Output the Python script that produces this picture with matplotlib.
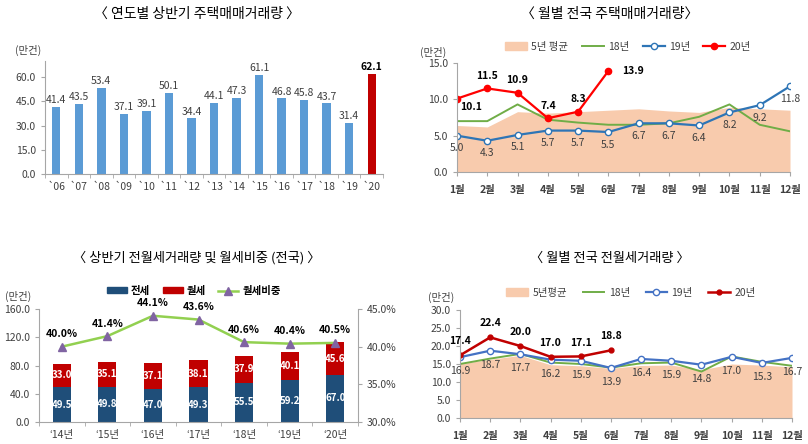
import numpy as np
import matplotlib
matplotlib.use("Agg")
import matplotlib.pyplot as plt
from matplotlib.patches import Patch
from matplotlib.lines import Line2D
from matplotlib.ticker import FuncFormatter

plt.rcParams['font.family'] = ['Noto Sans CJK KR', 'DejaVu Sans']

# ----------------------------
# Data
# ----------------------------
years = ['`06', '`07', '`08', '`09', '`10', '`11', '`12', '`13', '`14', '`15',
         '`16', '`17', '`18', '`19', '`20']
half_sales = [41.4, 43.5, 53.4, 37.1, 39.1, 50.1, 34.4, 44.1, 47.3, 61.1,
              46.8, 45.8, 43.7, 31.4, 62.1]

months = ['1월', '2월', '3월', '4월', '5월', '6월', '7월', '8월', '9월', '10월', '11월', '12월']
sale_avg5 = [6.4, 6.2, 8.3, 8.1, 8.3, 8.5, 8.7, 8.4, 8.2, 8.9, 8.7, 8.5]
sale_18 = [7.0, 7.0, 9.3, 7.2, 6.8, 6.5, 6.5, 6.7, 7.6, 9.3, 6.5, 5.6]
sale_19 = [5.0, 4.3, 5.1, 5.7, 5.7, 5.5, 6.7, 6.7, 6.4, 8.2, 9.2, 11.8]
sale_20 = [10.1, 11.5, 10.9, 7.4, 8.3, 13.9]

rent_years = ['‘14년', '‘15년', '‘16년', '‘17년', '‘18년', '‘19년', '‘20년']
jeonse = [49.5, 49.8, 47.0, 49.3, 55.5, 59.2, 67.0]
wolse = [33.0, 35.1, 37.1, 38.1, 37.9, 40.1, 45.6]
wolse_share = [40.0, 41.4, 44.1, 43.6, 40.6, 40.4, 40.5]

rent_avg5 = [15.1, 16.3, 17.4, 14.8, 14.5, 13.8, 14.6, 14.7, 13.4, 15.0, 14.7, 14.2]
rent_18 = [15.0, 16.5, 17.8, 15.4, 15.0, 14.0, 15.2, 15.4, 12.9, 17.1, 15.6, 14.5]
rent_19 = [16.9, 18.7, 17.7, 16.2, 15.9, 13.9, 16.4, 15.9, 14.8, 17.0, 15.3, 16.7]
rent_20 = [17.4, 22.4, 20.0, 17.0, 17.1, 18.8]

W, H = 808, 444
fig = plt.figure(figsize=(W / 100, H / 100), dpi=100)

def px_axes(x0, y0, x1, y1):
    return fig.add_axes([x0 / W, 1 - y1 / H, (x1 - x0) / W, (y1 - y0) / H])

def ftxt(x, y, s, **kw):
    fig.text(x / W, 1 - y / H, s, **kw)

AX = '#A6A6A6'
TXT = '#404040'

def style(ax):
    for s in ['top', 'right']:
        ax.spines[s].set_visible(False)
    ax.spines['left'].set_color(AX)
    ax.spines['bottom'].set_color(AX)
    ax.tick_params(axis='both', colors=AX, labelcolor=TXT, labelsize=7.5, length=3)

fmt1 = FuncFormatter(lambda v, p: f'{v:.1f}')

# ----------------------------
# Panel 1: yearly first-half sales
# ----------------------------
ax1 = px_axes(45, 61, 383, 174)
style(ax1)
x = np.arange(len(years))
cols = ['#5B9BD5'] * (len(years) - 1) + ['#C00000']
ax1.bar(x, half_sales, width=0.37, color=cols)
for i, v in enumerate(half_sales):
    last = i == len(years) - 1
    ax1.text(i, v + 1.2, f'{v:.1f}', ha='center', va='bottom', fontsize=7.5,
             color='black' if last else TXT, fontweight='bold' if last else 'normal')
ax1.set_xlim(-0.5, len(years) - 0.5)
ax1.set_ylim(0, 70)
ax1.set_yticks([0, 15, 30, 45, 60])
ax1.yaxis.set_major_formatter(fmt1)
ax1.set_xticks(x)
ax1.set_xticklabels(years)
ax1.set_xticks(np.arange(-0.5, len(years)), minor=True)
ax1.tick_params(axis='x', which='major', length=0, pad=6)
ax1.tick_params(axis='x', which='minor', length=3, color=AX)
ftxt(15, 50, '(만건)', fontsize=7.5, color=TXT, va='center')
ftxt(197, 14, '〈 연도별 상반기 주택매매거래량 〉', fontsize=10, ha='center', va='center')

# ----------------------------
# Panel 2: monthly sales
# ----------------------------
ax2 = px_axes(457, 63, 790, 172)
style(ax2)
m = np.arange(len(months))
ax2.fill_between(m, sale_avg5, color='#F8CBAD', lw=0)
ax2.plot(m, sale_18, color='#70AD47', lw=1.4)
ax2.plot(m, sale_19, color='#2E75B6', lw=1.6, marker='o', ms=4.5, mfc='white', mec='#2E75B6')
m20 = np.arange(len(sale_20))
ax2.plot(m20, sale_20, color='#FF0000', lw=1.6, marker='o', ms=4.5, mfc='#FF0000', mec='#FF0000')
for i, v in enumerate(sale_19):
    ax2.annotate(f'{v:.1f}', (i, v), xytext=(0, -9), textcoords='offset points',
                 ha='center', va='center', fontsize=7.5, color=TXT)
off20 = [(10, -6), (0, 9), (0, 9), (0, 9), (0, 9), (18, 0)]
for i, v in enumerate(sale_20):
    ax2.annotate(f'{v:.1f}', (i, v), xytext=off20[i], textcoords='offset points',
                 ha='center', va='center', fontsize=7.5, fontweight='bold', color='black')
ax2.set_xlim(0, len(months) - 1)
ax2.set_ylim(0, 15)
ax2.set_yticks([0, 5, 10, 15])
ax2.yaxis.set_major_formatter(fmt1)
ax2.set_xticks(m)
ax2.set_xticklabels(months, fontweight='bold')
ax2.tick_params(axis='x', pad=6)
h2 = [Patch(color='#F8CBAD'),
      Line2D([], [], color='#70AD47', lw=1.4),
      Line2D([], [], color='#2E75B6', lw=1.6, marker='o', ms=4.5, mfc='white'),
      Line2D([], [], color='#FF0000', lw=1.6, marker='o', ms=4.5)]
fig.legend(h2, ['5년 평균', '18년', '19년', '20년'], loc='center',
           bbox_to_anchor=(628 / W, 1 - 47 / H), ncol=4, frameon=False,
           fontsize=7.5, handlelength=2.1, handleheight=0.8, columnspacing=1.3,
           handletextpad=0.4, labelcolor=TXT)
ftxt(420, 52, '(만건)', fontsize=7.5, color=TXT, va='center')
ftxt(610, 14, '〈 월별 전국 주택매매거래량〉', fontsize=10, ha='center', va='center')

# ----------------------------
# Panel 3: first-half rent volume and wolse share
# ----------------------------
ax3 = px_axes(39, 309, 358, 422)
style(ax3)
r = np.arange(len(rent_years))
ax3.bar(r, jeonse, width=0.4, color='#1F4E79')
ax3.bar(r, wolse, width=0.4, bottom=jeonse, color='#C00000')
for i in r:
    ax3.text(i, jeonse[i] / 2, f'{jeonse[i]:.1f}', ha='center', va='center',
             fontsize=7, color='white', fontweight='bold')
    ax3.text(i, jeonse[i] + wolse[i] / 2, f'{wolse[i]:.1f}', ha='center', va='center',
             fontsize=7, color='white', fontweight='bold')
ax3.set_xlim(-0.5, len(rent_years) - 0.5)
ax3.set_ylim(0, 160)
ax3.set_yticks([0, 40, 80, 120, 160])
ax3.yaxis.set_major_formatter(fmt1)
ax3.set_xticks(r)
ax3.set_xticklabels(rent_years)
ax3.set_xticks(np.arange(-0.5, len(rent_years)), minor=True)
ax3.tick_params(axis='x', which='major', length=0, pad=6)
ax3.tick_params(axis='x', which='minor', length=3, color=AX)

ax3r = ax3.twinx()
for s in ['top', 'left', 'bottom']:
    ax3r.spines[s].set_visible(False)
ax3r.spines['right'].set_color(AX)
ax3r.tick_params(axis='y', colors=AX, labelcolor=TXT, labelsize=7.5, length=3)
ax3r.plot(r, wolse_share, color='#92D050', lw=1.8, marker='^', ms=5.5,
          mfc='#8064A2', mec='#8064A2')
for i, v in enumerate(wolse_share):
    ax3r.annotate(f'{v:.1f}%', (i, v), xytext=(0, 9), textcoords='offset points',
                  ha='center', va='center', fontsize=7.5, fontweight='bold', color='black')
ax3r.set_ylim(30, 45)
ax3r.set_yticks([30, 35, 40, 45])
ax3r.yaxis.set_major_formatter(FuncFormatter(lambda v, p: f'{v:.1f}%'))
h3 = [Patch(color='#1F4E79'), Patch(color='#C00000'),
      Line2D([], [], color='#92D050', lw=1.8, marker='^', ms=5.5, mfc='#8064A2', mec='#8064A2')]
fig.legend(h3, ['전세', '월세', '월세비중'], loc='center',
           bbox_to_anchor=(194 / W, 1 - 291 / H), ncol=3, frameon=False,
           handlelength=1.9, handleheight=0.5, columnspacing=1.2,
           handletextpad=0.4, prop={'weight': 'bold', 'size': 7.5})
ftxt(5, 296, '(만건)', fontsize=7.5, color=TXT, va='center')
ftxt(197, 258, '〈 상반기 전월세거래량 및 월세비중 (전국) 〉', fontsize=9.5, ha='center', va='center')

# ----------------------------
# Panel 4: monthly rent volume
# ----------------------------
ax4 = px_axes(460, 310, 792, 418)
style(ax4)
ax4.fill_between(m, rent_avg5, color='#F8CBAD', lw=0)
ax4.plot(m, rent_18, color='#70AD47', lw=1.4)
ax4.plot(m, rent_19, color='#4472C4', lw=1.6, marker='o', ms=4.5, mfc='white', mec='#4472C4')
ax4.plot(m20, rent_20, color='#C00000', lw=1.8, marker='o', ms=3.5, mfc='#C00000', mec='#C00000')
for i, v in enumerate(rent_19):
    ax4.annotate(f'{v:.1f}', (i, v), xytext=(0, -10), textcoords='offset points',
                 ha='center', va='center', fontsize=7.5, color=TXT)
for i, v in enumerate(rent_20):
    ax4.annotate(f'{v:.1f}', (i, v), xytext=(0, 10), textcoords='offset points',
                 ha='center', va='center', fontsize=7.5, fontweight='bold', color='black')
ax4.set_xlim(0, len(months) - 1)
ax4.set_ylim(0, 30)
ax4.set_yticks(np.arange(0, 31, 5))
ax4.yaxis.set_major_formatter(fmt1)
ax4.set_xticks(m)
ax4.set_xticklabels(months, fontweight='bold')
ax4.tick_params(axis='x', pad=6)
h4 = [Patch(color='#F8CBAD'),
      Line2D([], [], color='#70AD47', lw=1.4),
      Line2D([], [], color='#4472C4', lw=1.6, marker='o', ms=4.5, mfc='white'),
      Line2D([], [], color='#C00000', lw=1.8, marker='o', ms=3.5)]
fig.legend(h4, ['5년평균', '18년', '19년', '20년'], loc='center',
           bbox_to_anchor=(631 / W, 1 - 293 / H), ncol=4, frameon=False,
           fontsize=7.5, handlelength=2.1, handleheight=0.8, columnspacing=1.5,
           handletextpad=0.4, labelcolor=TXT)
ftxt(428, 297, '(만건)', fontsize=7.5, color=TXT, va='center')
ftxt(610, 258, '〈 월별 전국 전월세거래량 〉', fontsize=9.5, ha='center', va='center')

fig.savefig('out.png', dpi=100)
